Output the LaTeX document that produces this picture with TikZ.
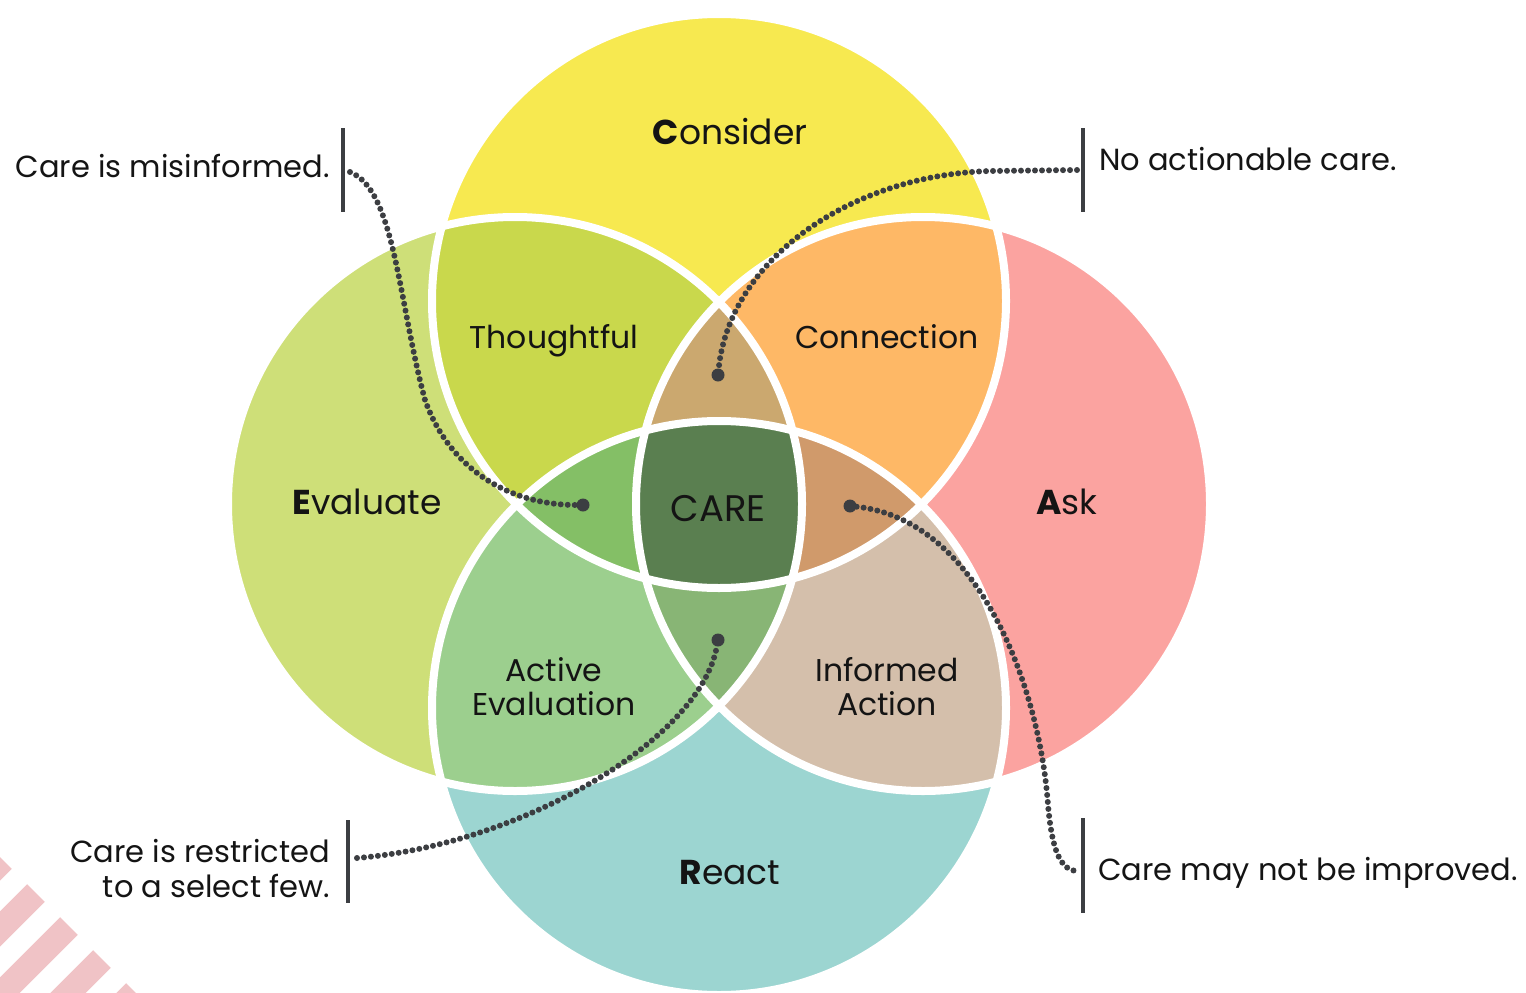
\documentclass[tikz,border=0pt]{standalone}
\usepackage{fontspec}
\setmainfont{Poppins}
\definecolor{cCons}{HTML}{F7E950}
\definecolor{cEval}{HTML}{CEDF78}
\definecolor{cAsk}{HTML}{FBA3A0}
\definecolor{cReact}{HTML}{9CD5D1}
\definecolor{cThou}{HTML}{C9D84C}
\definecolor{cConn}{HTML}{FEB866}
\definecolor{cActE}{HTML}{9CCF8E}
\definecolor{cInfA}{HTML}{D4BFAB}
\definecolor{cTop}{HTML}{CBA86F}
\definecolor{cLeft}{HTML}{84BF66}
\definecolor{cRight}{HTML}{D09A6B}
\definecolor{cBot}{HTML}{88B575}
\definecolor{cCare}{HTML}{5A7F50}
\definecolor{cStripe}{HTML}{F0C3C6}
\definecolor{cInk}{HTML}{3C3E42}
\begin{document}
\begin{tikzpicture}[x=1pt,y=-1pt,
  lbl/.style={font=\fontsize{30.5}{34}\selectfont, text=black!92, inner sep=0pt},
  biglbl/.style={lbl, font=\fontsize{34.5}{38}\selectfont},
  sublbl/.style={lbl, font=\fontsize{31.5}{36}\selectfont},
  carelbl/.style={lbl, font=\fontsize{37}{40}\selectfont},
  barline/.style={line width=4pt, draw=cInk},
  dotline/.style={line width=6pt, line cap=round, dash pattern=on 0pt off 7pt, draw=cInk},
  enddot/.style={circle, fill=cInk, minimum size=13pt, inner sep=0pt},
  ring/.style={draw=white, line width=8pt},
  stripe/.style={draw=cStripe, line width=25pt}]
\useasboundingbox (0,0) rectangle (1526,993);
\fill[white] (0,0) rectangle (1526,993);
% decorative stripes
\begin{scope}
  \clip (0,0) rectangle (1526,993);
  \foreach \k in {0,...,4} \draw[stripe] ({3+33*\k},{860+33*\k}) -- ++(-260,260);
\end{scope}
% circle centres
\coordinate (T) at (719,301);
\coordinate (B) at (719,708);
\coordinate (L) at (515,504);
\coordinate (R) at (923,504);
\def\Rad{287pt}
% single circles
\fill[cCons] (T) circle[radius=\Rad];
\fill[cEval] (L) circle[radius=\Rad];
\fill[cAsk] (R) circle[radius=\Rad];
\fill[cReact] (B) circle[radius=\Rad];
% pairwise
\begin{scope}\clip (T) circle[radius=\Rad]; \fill[cThou] (L) circle[radius=\Rad];\end{scope}
\begin{scope}\clip (T) circle[radius=\Rad]; \fill[cConn] (R) circle[radius=\Rad];\end{scope}
\begin{scope}\clip (B) circle[radius=\Rad]; \fill[cActE] (L) circle[radius=\Rad];\end{scope}
\begin{scope}\clip (B) circle[radius=\Rad]; \fill[cInfA] (R) circle[radius=\Rad];\end{scope}
% triples
\begin{scope}\clip (L) circle[radius=\Rad]; \clip (R) circle[radius=\Rad]; \fill[cTop] (T) circle[radius=\Rad];\end{scope}
\begin{scope}\clip (L) circle[radius=\Rad]; \clip (R) circle[radius=\Rad]; \fill[cBot] (B) circle[radius=\Rad];\end{scope}
\begin{scope}\clip (T) circle[radius=\Rad]; \clip (B) circle[radius=\Rad]; \fill[cLeft] (L) circle[radius=\Rad];\end{scope}
\begin{scope}\clip (T) circle[radius=\Rad]; \clip (B) circle[radius=\Rad]; \fill[cRight] (R) circle[radius=\Rad];\end{scope}
% all four
\begin{scope}\clip (T) circle[radius=\Rad]; \clip (B) circle[radius=\Rad]; \clip (L) circle[radius=\Rad]; \fill[cCare] (R) circle[radius=\Rad];\end{scope}
% white outlines
\draw[ring] (T) circle[radius=\Rad];
\draw[ring] (L) circle[radius=\Rad];
\draw[ring] (R) circle[radius=\Rad];
\draw[ring] (B) circle[radius=\Rad];
% region labels
\node[biglbl, anchor=base] (consider) at (730,144) {{\bfseries C}onsider};
\node[biglbl, anchor=base] (evaluate) at (367,514) {{\bfseries E}valuate};
\node[biglbl, anchor=base] (ask) at (1067,514) {{\bfseries A}sk};
\node[biglbl, anchor=base] (react) at (730,884) {{\bfseries R}eact};
\node[sublbl, anchor=base] (thoughtful) at (554,348) {Thoughtful};
\node[sublbl, anchor=base] (connection) at (887,348) {Connection};
\node[carelbl, anchor=base] (care) at (718,521) {CARE};
\node[sublbl, anchor=base] (active1) at (554,681) {Active};
\node[sublbl, anchor=base] (active2) at (554,715) {Evaluation};
\node[sublbl, anchor=base] (inf1) at (887,681) {Informed};
\node[sublbl, anchor=base] (inf2) at (887,715) {Action};
% callout texts
\node[lbl, anchor=base east] (t1) at (330,177) {Care is misinformed.};
\node[lbl, anchor=base west] (t2) at (1099,170) {No actionable care.};
\node[lbl, anchor=base east] (t3a) at (330,862) {Care is restricted};
\node[lbl, anchor=base east] (t3b) at (330,897) {to a select few.};
\node[lbl, anchor=base west] (t4) at (1098,880) {Care may not be improved.};
% bars
\coordinate (b1t) at (343,128); \coordinate (b1b) at (343,212);
\coordinate (b2t) at (1083,128); \coordinate (b2b) at (1083,212);
\coordinate (b3t) at (348,820); \coordinate (b3b) at (348,903);
\coordinate (b4t) at (1083,818); \coordinate (b4b) at (1083,913);
\draw[barline] (b1t) -- (b1b);
\draw[barline] (b2t) -- (b2b);
\draw[barline] (b3t) -- (b3b);
\draw[barline] (b4t) -- (b4b);
% end dots
\node[enddot] (d1) at (583,505) {};
\node[enddot] (d2) at (718,375) {};
\node[enddot] (d3) at (718,640) {};
\node[enddot] (d4) at (850,506) {};
% connector starts
\coordinate (s1) at (350,172);
\coordinate (s2) at (1077,170);
\coordinate (s3) at (357,858);
\coordinate (s4) at (1075,871);
% dotted connectors
\draw[dotline] (s1) .. controls (395,190) and (398,300) .. (425,400) .. controls (450,470) and (510,505) .. (d1);
\draw[dotline] (s2) -- (990,171) .. controls (850,175) and (730,260) .. (d2);
\draw[dotline] (s3) .. controls (520,845) and (700,740) .. (d3);
\draw[dotline] (d4) .. controls (980,520) and (1040,690) .. (1048,805) .. controls (1052,850) and (1060,868) .. (s4);
\end{tikzpicture}
\end{document}
